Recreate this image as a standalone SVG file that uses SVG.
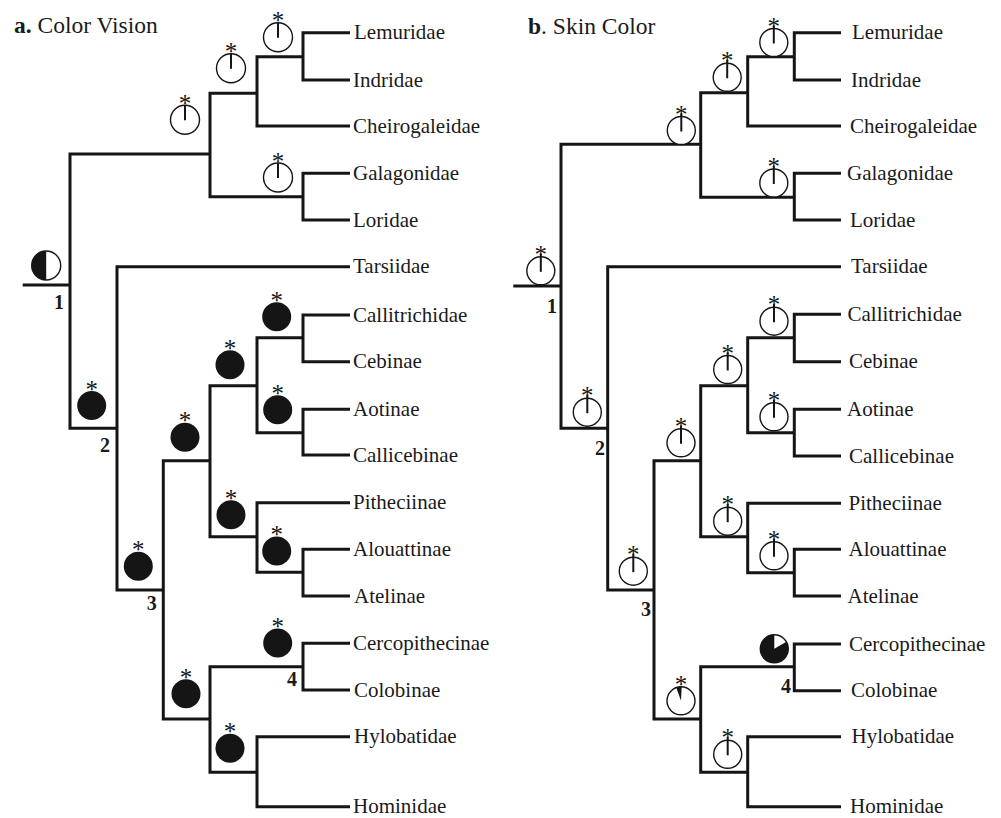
<svg xmlns="http://www.w3.org/2000/svg" xmlns:xlink="http://www.w3.org/1999/xlink" width="1001" height="818" viewBox="0 0 1001 818">
<style>
.br{fill:none;stroke:#151515;stroke-width:3;stroke-linejoin:miter;stroke-linecap:butt}
.oc{fill:#fff;stroke:#151515;stroke-width:1.4}
.tk{stroke:#151515;stroke-width:2}
.st{font-family:"Liberation Serif","Times New Roman",serif;font-size:25px;fill:#151515;text-anchor:middle}
.lb{font-family:"Liberation Serif","Times New Roman",serif;font-size:21px;fill:#1a1a1a}
.nm{font-family:"Liberation Serif","Times New Roman",serif;font-size:20px;font-weight:bold;fill:#1a1a1a;text-anchor:middle}
.tt{font-family:"Liberation Serif","Times New Roman",serif;font-size:23.5px;fill:#1a1a1a}
.bd{font-weight:bold}
</style>
<defs>
<g id="oA"><circle r="14.5" class="oc"/><line x1="0" y1="-14.5" x2="0" y2="0.5" class="tk"/><text y="-8" class="st">*</text></g>
<g id="oB"><circle r="14" class="oc"/><line x1="0" y1="-17" x2="0" y2="1" class="tk"/><text y="-8" class="st">*</text></g>
<g id="fA"><circle r="14.5" fill="#151515"/><text y="-8" class="st">*</text></g>
</defs>
<rect width="1001" height="818" fill="#fff"/>

<g id="titles">
<text class="tt" x="14" y="32.5"><tspan class="bd">a.</tspan> Color Vision</text>
<text class="tt" x="528" y="34"><tspan class="bd">b</tspan>. Skin Color</text>
</g>

<g id="connectors">
<g id="tree-a">
<path class="br" d="M350 32.7 H303 V80 H350"/>
<path class="br" d="M303 56.7 H257 V126 H350"/>
<path class="br" d="M303 196.7 H210 V93.3 H257"/>
<path class="br" d="M350 173.3 H303 V220 H350"/>
<path class="br" d="M210 154 H70 V428.3 H117"/>
<path class="br" d="M22.7 285 H70"/>
<path class="br" d="M350 266.7 H117 V590 H163.3"/>
<path class="br" d="M210 460.7 H163.3 V719 H210"/>
<path class="br" d="M257 385.7 H210 V536.7 H257"/>
<path class="br" d="M303 337.7 H257 V432.7 H303"/>
<path class="br" d="M350 315 H303 V361.7 H350"/>
<path class="br" d="M350 409.3 H303 V455 H350"/>
<path class="br" d="M350 502.7 H257 V572.3 H303"/>
<path class="br" d="M350 549.3 H303 V596 H350"/>
<path class="br" d="M303 666.7 H210 V772.3 H257"/>
<path class="br" d="M350 643.3 H303 V690 H350"/>
<path class="br" d="M350 736.7 H257 V806.7 H350"/>
</g>
<g id="tree-b">
<path class="br" d="M841 32.7 H794.3 V80 H841"/>
<path class="br" d="M794.3 56.7 H747.7 V126 H841"/>
<path class="br" d="M794.3 197.3 H700.7 V92.7 H747.7"/>
<path class="br" d="M841 173.3 H794.3 V220 H841"/>
<path class="br" d="M700.7 144.3 H561 V428.3 H607.7"/>
<path class="br" d="M513.3 286 H561"/>
<path class="br" d="M841 266.7 H607.7 V590 H654"/>
<path class="br" d="M700.7 460.7 H654 V719 H700.7"/>
<path class="br" d="M747.7 385.7 H700.7 V536.7 H747.7"/>
<path class="br" d="M794.3 337.7 H747.7 V432.7 H794.3"/>
<path class="br" d="M841 314.3 H794.3 V361.7 H841"/>
<path class="br" d="M841 409.3 H794.3 V456 H841"/>
<path class="br" d="M841 503.3 H747.7 V572.7 H794.3"/>
<path class="br" d="M841 549.3 H794.3 V596 H841"/>
<path class="br" d="M794.3 666.7 H700.7 V772.3 H747.7"/>
<path class="br" d="M841 644 H794.3 V690.7 H841"/>
<path class="br" d="M841 736.7 H747.7 V806.7 H841"/>
</g>
</g>

<g id="states-a">
<use id="a-lemind" xlink:href="#oA" href="#oA" x="278" y="37.2"/>
<use id="a-lemind-chei" xlink:href="#oA" href="#oA" x="231" y="68.3"/>
<use id="a-strep" xlink:href="#oA" href="#oA" x="185" y="119.7"/>
<use id="a-lorisoid" xlink:href="#oA" href="#oA" x="278" y="177.5"/>
<g id="a-root"><circle cx="46.2" cy="265.5" r="14.5" class="oc"/><path d="M46.2 251 A14.5 14.5 0 0 0 46.2 280 Z" fill="#151515"/></g>
<use id="a-haplo" xlink:href="#fA" href="#fA" x="91.7" y="405.5"/>
<use id="a-callceb" xlink:href="#fA" href="#fA" x="276.7" y="316.8"/>
<use id="a-cebid" xlink:href="#fA" href="#fA" x="230" y="364.7"/>
<use id="a-aotcall" xlink:href="#fA" href="#fA" x="277.7" y="409.7"/>
<use id="a-platy" xlink:href="#fA" href="#fA" x="185" y="437.3"/>
<use id="a-atelid" xlink:href="#fA" href="#fA" x="231" y="514.7"/>
<use id="a-aloatel" xlink:href="#fA" href="#fA" x="276.7" y="551"/>
<use id="a-anthro" xlink:href="#fA" href="#fA" x="138.3" y="566.2"/>
<use id="a-cercop" xlink:href="#fA" href="#fA" x="277.7" y="643"/>
<use id="a-catarr" xlink:href="#fA" href="#fA" x="186" y="693.8"/>
<use id="a-hominoid" xlink:href="#fA" href="#fA" x="230" y="748.3"/>
</g>

<g id="states-b">
<use id="b-lemind" xlink:href="#oB" href="#oB" x="773.8" y="42.5"/>
<use id="b-lemind-chei" xlink:href="#oB" href="#oB" x="727.2" y="77.3"/>
<use id="b-strep" xlink:href="#oB" href="#oB" x="681.3" y="130.5"/>
<use id="b-lorisoid" xlink:href="#oB" href="#oB" x="773.8" y="183"/>
<use id="b-root" xlink:href="#oB" href="#oB" x="540.8" y="270.8"/>
<use id="b-haplo" xlink:href="#oB" href="#oB" x="587.3" y="412.2"/>
<use id="b-callceb" xlink:href="#oB" href="#oB" x="774" y="321.2"/>
<use id="b-cebid" xlink:href="#oB" href="#oB" x="727.7" y="369.5"/>
<use id="b-aotcall" xlink:href="#oB" href="#oB" x="774" y="416.8"/>
<use id="b-platy" xlink:href="#oB" href="#oB" x="681" y="442.8"/>
<use id="b-atelid" xlink:href="#oB" href="#oB" x="727.7" y="521.2"/>
<use id="b-aloatel" xlink:href="#oB" href="#oB" x="774" y="555.8"/>
<use id="b-anthro" xlink:href="#oB" href="#oB" x="633.3" y="571.2"/>
<g id="b-cercop"><circle cx="774.3" cy="648.8" r="14" class="oc"/><path d="M774.3 648.8 L786.4 641.8 A14 14 0 1 1 774.3 634.8 Z" fill="#151515"/></g>
<g id="b-catarr"><circle cx="681" cy="700.8" r="14" class="oc"/><path d="M681 700.8 L676.2 687.6 A14 14 0 0 1 681.7 686.8 Z" fill="#151515"/><text x="681" y="692.8" class="st">*</text></g>
<use id="b-hominoid" xlink:href="#oB" href="#oB" x="727.7" y="754.3"/>
</g>

<g id="nodes-a">
<text class="nm" x="59" y="309">1</text>
<text class="nm" x="105" y="451.7">2</text>
<text class="nm" x="151.7" y="610">3</text>
<text class="nm" x="292" y="686">4</text>
</g>
<g id="nodes-b">
<text class="nm" x="552" y="313.3">1</text>
<text class="nm" x="600" y="455">2</text>
<text class="nm" x="646" y="615.5">3</text>
<text class="nm" x="786" y="693.3">4</text>
</g>

<g id="taxa-a" class="lb">
<text id="a-Lemuridae" x="354" y="39.2">Lemuridae</text>
<text id="a-Indridae" x="353" y="86.5">Indridae</text>
<text id="a-Cheirogaleidae" x="353" y="132.5">Cheirogaleidae</text>
<text id="a-Galagonidae" x="353" y="179.8">Galagonidae</text>
<text id="a-Loridae" x="353" y="226.5">Loridae</text>
<text id="a-Tarsiidae" x="353" y="273.2">Tarsiidae</text>
<text id="a-Callitrichidae" x="353" y="321.5">Callitrichidae</text>
<text id="a-Cebinae" x="353" y="368.2">Cebinae</text>
<text id="a-Aotinae" x="353" y="415.8">Aotinae</text>
<text id="a-Callicebinae" x="353" y="461.5">Callicebinae</text>
<text id="a-Pitheciinae" x="353" y="509.2">Pitheciinae</text>
<text id="a-Alouattinae" x="353" y="555.8">Alouattinae</text>
<text id="a-Atelinae" x="354" y="602.5">Atelinae</text>
<text id="a-Cercopithecinae" x="353" y="649.8">Cercopithecinae</text>
<text id="a-Colobinae" x="354" y="696.5">Colobinae</text>
<text id="a-Hylobatidae" x="354" y="743.2">Hylobatidae</text>
<text id="a-Hominidae" x="353" y="813.2">Hominidae</text>
</g>
<g id="taxa-b" class="lb">
<text id="b-Lemuridae" x="852" y="39.2">Lemuridae</text>
<text id="b-Indridae" x="851" y="86.5">Indridae</text>
<text id="b-Cheirogaleidae" x="850" y="132.5">Cheirogaleidae</text>
<text id="b-Galagonidae" x="847" y="179.8">Galagonidae</text>
<text id="b-Loridae" x="850" y="226.5">Loridae</text>
<text id="b-Tarsiidae" x="851" y="273.2">Tarsiidae</text>
<text id="b-Callitrichidae" x="847.5" y="320.8">Callitrichidae</text>
<text id="b-Cebinae" x="849" y="368.2">Cebinae</text>
<text id="b-Aotinae" x="847" y="415.8">Aotinae</text>
<text id="b-Callicebinae" x="849" y="462.5">Callicebinae</text>
<text id="b-Pitheciinae" x="848.5" y="509.8">Pitheciinae</text>
<text id="b-Alouattinae" x="848.5" y="555.8">Alouattinae</text>
<text id="b-Atelinae" x="847.5" y="602.5">Atelinae</text>
<text id="b-Cercopithecinae" x="849" y="650.5">Cercopithecinae</text>
<text id="b-Colobinae" x="851" y="697.2">Colobinae</text>
<text id="b-Hylobatidae" x="851.5" y="743.2">Hylobatidae</text>
<text id="b-Hominidae" x="850" y="813.2">Hominidae</text>
</g>
</svg>
